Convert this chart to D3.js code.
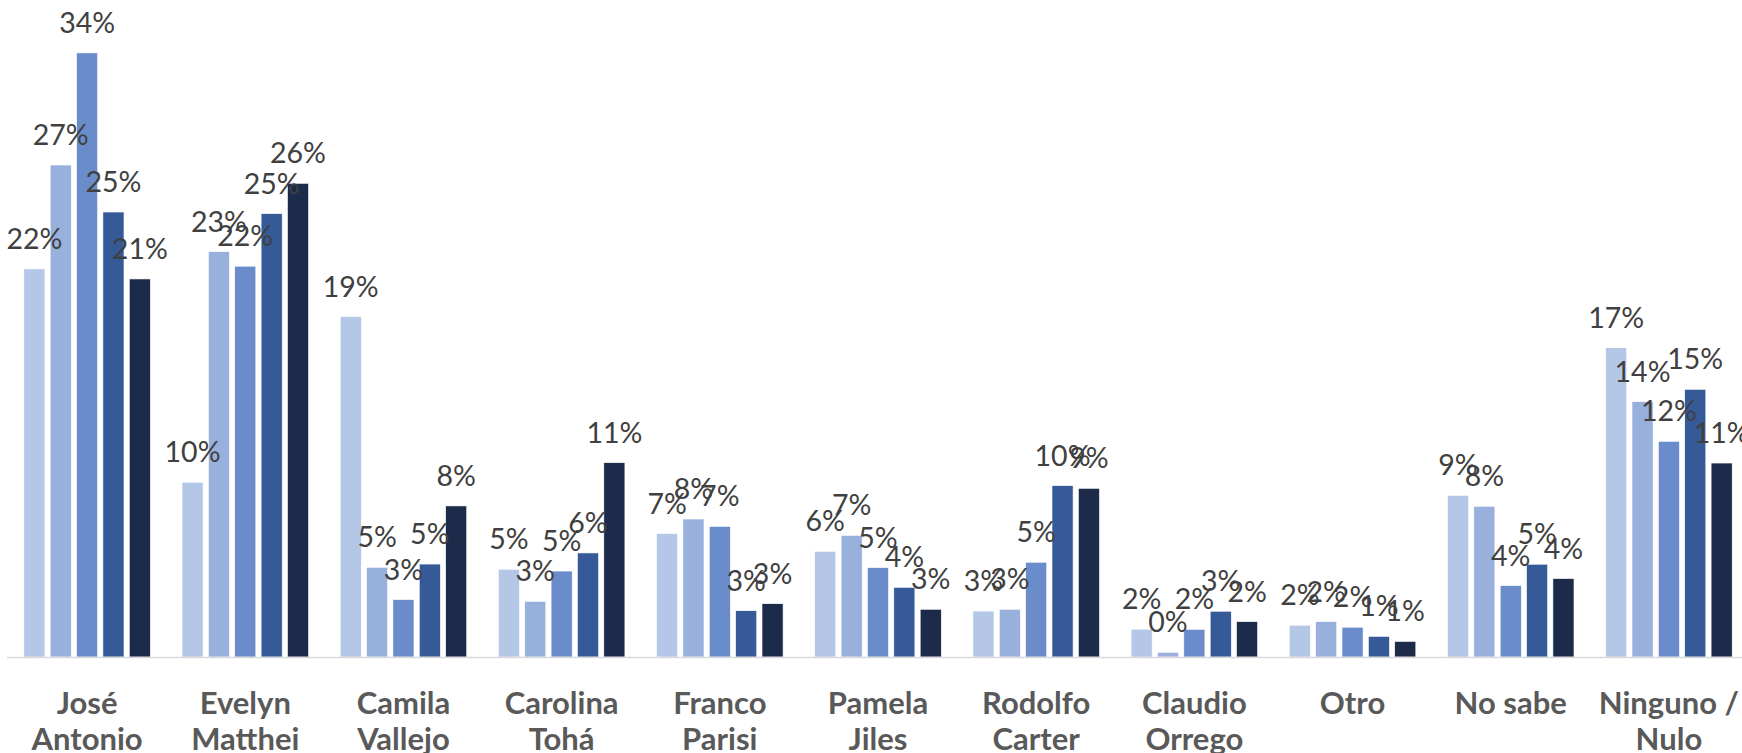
<!DOCTYPE html>
<html>
<head>
<meta charset="utf-8">
<script src="https://cdn.jsdelivr.net/npm/d3@7"></script>
<style>
  html, body { margin: 0; padding: 0; background: #fff; }
  svg { display: block; }
</style>
</head>
<body>
<script>
// categorias (dos lineas por etiqueta)
const categories = [
    ['José', 'Antonio'], ['Evelyn', 'Matthei'], ['Camila', 'Vallejo'],
    ['Carolina', 'Tohá'], ['Franco', 'Parisi'], ['Pamela', 'Jiles'],
    ['Rodolfo', 'Carter'], ['Claudio', 'Orrego'], ['Otro'], ['No sabe'],
    ['Ninguno /', 'Nulo']
];
const seriesNames = ['Medición 1', 'Medición 2', 'Medición 3', 'Medición 4', 'Medición 5'];
const serie1 = [0.2163, 0.0974, 0.1897, 0.0489, 0.0688, 0.0589, 0.0256, 0.0155, 0.0177, 0.0901, 0.1724];
const serie2 = [0.2742, 0.2259, 0.0500, 0.0310, 0.0769, 0.0678, 0.0266, 0.0026, 0.0197, 0.0840, 0.1423];
const serie3 = [0.3367, 0.2178, 0.0320, 0.0479, 0.0728, 0.0498, 0.0528, 0.0154, 0.0166, 0.0398, 0.1202];
const serie4 = [0.2480, 0.2471, 0.0518, 0.0580, 0.0258, 0.0388, 0.0955, 0.0255, 0.0115, 0.0517, 0.1492];
const serie5 = [0.2107, 0.2640, 0.0842, 0.1083, 0.0297, 0.0266, 0.0940, 0.0197, 0.0087, 0.0437, 0.1081];
const colors = ['#b4c7e7', '#97b0dc', '#6a8cca', '#365a98', '#1d2b4a'];

const width = 1742, height = 753;
const baseY = 657;
const series = [serie1, serie2, serie3, serie4, serie5];

const svg = d3.select('body').append('svg')
    .attr('width', width)
    .attr('height', height);

const x0 = d3.scaleBand()
    .domain(d3.range(categories.length))
    .range([8, 1748])
    .paddingInner(0.2)
    .paddingOuter(0.1);

const x1 = d3.scaleBand()
    .domain(d3.range(seriesNames.length))
    .range([0, x0.bandwidth()])
    .paddingInner(0.2);

const y = d3.scaleLinear()
    .domain([0, 0.35])
    .range([baseY, baseY - 628]);

const fmt = d3.format('.0%');

const groups = svg.append('g').selectAll('g.group')
    .data(categories.map((c, i) => series.map((s, j) => ({ cat: i, ser: j, value: s[i] }))))
    .join('g')
    .attr('class', 'group')
    .attr('transform', (d, i) => 'translate(' + x0(i) + ',0)');

groups.selectAll('rect')
    .data(d => d)
    .join('rect')
    .attr('x', d => x1(d.ser))
    .attr('y', d => y(d.value))
    .attr('width', x1.bandwidth())
    .attr('height', d => baseY - y(d.value))
    .attr('fill', d => colors[d.ser])
    .attr('stroke', '#fff')
    .attr('stroke-width', 0.6);

// linea base
svg.append('line')
    .attr('x1', 7).attr('x2', width)
    .attr('y1', baseY + 0.5).attr('y2', baseY + 0.5)
    .attr('stroke', '#d9d9d9')
    .attr('stroke-width', 1.5);

// etiquetas de valor
groups.selectAll('text.val')
    .data(d => d)
    .join('text')
    .attr('class', 'val')
    .attr('x', d => x1(d.ser) + x1.bandwidth() / 2)
    .attr('y', d => y(d.value) - 20)
    .attr('text-anchor', 'middle')
    .attr('font-family', 'Lato, sans-serif')
    .attr('font-size', 28.5)
    .attr('fill', '#404040')
    .text(d => fmt(d.value));

// etiquetas de categoria
const catLabels = svg.append('g').selectAll('text.cat')
    .data(categories)
    .join('text')
    .attr('class', 'cat')
    .attr('x', (d, i) => x0(i) + x0.bandwidth() / 2)
    .attr('y', 714)
    .attr('text-anchor', 'middle')
    .attr('font-family', 'Lato, sans-serif')
    .attr('font-weight', 'bold')
    .attr('font-size', 31)
    .attr('fill', '#595959');

catLabels.selectAll('tspan')
    .data(d => d)
    .join('tspan')
    .attr('x', function () { return d3.select(this.parentNode).attr('x'); })
    .attr('dy', (d, i) => i === 0 ? 0 : 36)
    .text(d => d);
</script>
</body>
</html>
